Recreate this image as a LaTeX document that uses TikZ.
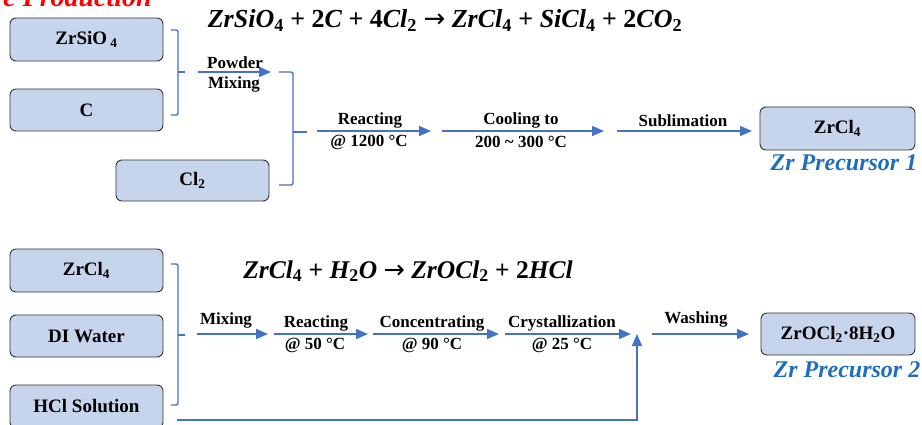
\documentclass[tikz,border=0pt]{standalone}
\usepackage{fontspec}
\setmainfont{Liberation Serif}
\newfontfamily\arrowfont{DejaVu Sans}
\usetikzlibrary{arrows.meta}
\definecolor{boxfill}{RGB}{198,212,236}
\definecolor{flowblue}{RGB}{68,114,196}
\definecolor{precblue}{RGB}{30,110,190}
\newcommand{\ei}[1]{{\bfseries\itshape #1}}
\newcommand{\en}[1]{{\bfseries\upshape #1}}
\newcommand{\es}[1]{\textsubscript{\bfseries\upshape #1}}
\newcommand{\eplus}{\ {\bfseries\upshape +}\ }
\newcommand{\earrow}{\ {\arrowfont →}\ }
\tikzset{
 procbox/.style={draw=black!80, line width=0.9pt, fill=boxfill, rounded corners=6pt, minimum width=153pt, minimum height=43pt, inner sep=0pt, font=\fontsize{19}{22}\selectfont\bfseries},
 flow/.style={draw=flowblue, line width=1.6pt, -{Triangle[length=12pt,width=10pt]}},
 brace/.style={draw=flowblue, line width=1.4pt, rounded corners=2pt},
 steplabel/.style={font=\fontsize{17}{20}\selectfont\bfseries, inner sep=0pt},
 prec/.style={font=\fontsize{24}{28}\selectfont\bfseries\itshape, text=precblue, inner sep=0pt},
 eqn/.style={font=\fontsize{25.5}{30}\selectfont, inner sep=0pt, anchor=base},
}
\begin{document}
\begin{tikzpicture}[x=1pt,y=-1pt]
\useasboundingbox (0,0) rectangle (922,425);
\clip (0,0) rectangle (922,425);

% title (clipped at the top edge, as in the reference)
\node[anchor=base east, font=\fontsize{28}{32}\selectfont\bfseries\itshape, text=red, inner sep=0pt] (title) at (152,7) {e Production};

% equations
\node[eqn, font=\fontsize{26}{30}\selectfont] (eq1) at (445,28) {\ei{ZrSiO}\es{4}\eplus\en{2}\ei{C}\eplus\en{4}\ei{Cl}\es{2}\earrow\ei{ZrCl}\es{4}\eplus\ei{SiCl}\es{4}\eplus\en{2}\ei{CO}\es{2}};
\node[eqn] (eq2) at (408,278) {\ei{ZrCl}\es{4}\eplus\ei{H}\es{2}\ei{O}\earrow\ei{ZrOCl}\es{2}\eplus\en{2}\ei{HCl}};

% top boxes
\node[procbox] (zrsio) at (86.5,39.5) {ZrSiO\,\textsubscript{4}};
\node[procbox, minimum height=42pt] (carbon) at (86.5,110) {C};
\node[procbox, minimum height=41pt] (chlor) at (192.5,180.5) {Cl\textsubscript{2}};
\node[procbox, minimum width=155pt] (zrcla) at (837.5,128.5) {ZrCl\textsubscript{4}};
\node[prec] (p1) at (844,163) {Zr Precursor 1};

% bottom boxes
\node[procbox] (zrclb) at (86.5,270.5) {ZrCl\textsubscript{4}};
\node[procbox, minimum height=42pt] (water) at (86.5,336) {DI Water};
\node[procbox] (hcl) at (86.5,406.5) {HCl Solution};
\node[procbox, minimum width=154pt, minimum height=42pt] (zrocl) at (838,334) {ZrOCl\textsubscript{2}·8H\textsubscript{2}O};
\node[prec] (p2) at (847,370) {Zr Precursor 2};

% top brackets
\draw[brace] (171,30) -| (178,115) -- (171,115);
\draw[brace] (178,72) -- (185,72);
\draw[brace] (279,72) -| (293,185) -- (279,185);
\draw[brace] (293,132) -- (307,132);

% top arrows
\coordinate (a1s) at (198,72);  \coordinate (a1e) at (271,72);
\coordinate (a2s) at (317,131); \coordinate (a2e) at (431,131);
\coordinate (a3s) at (442,131); \coordinate (a3e) at (604,131);
\coordinate (a4s) at (617,131); \coordinate (a4e) at (752,131);
\draw[flow] (a1s) -- (a1e);
\draw[flow] (a2s) -- (a2e);
\draw[flow] (a3s) -- (a3e);
\draw[flow] (a4s) -- (a4e);
\node[steplabel] (l1a) at (235,63) {Powder};
\node[steplabel] (l1b) at (234,84) {Mixing};
\node[steplabel] (l2a) at (370,120) {Reacting};
\node[steplabel] (l2b) at (369,142) {@ 1200 °C};
\node[steplabel] (l3a) at (521,120) {Cooling to};
\node[steplabel] (l3b) at (521,142) {200 \textasciitilde{} 300 °C};
\node[steplabel] (l4a) at (683,121) {Sublimation};

% bottom bracket
\draw[brace] (171,264) -| (178,405) -- (171,405);
\draw[brace] (178,335) -- (185,335);

% bottom arrows
\coordinate (b1s) at (197,334); \coordinate (b1e) at (268,334);
\coordinate (b2s) at (274,334); \coordinate (b2e) at (368,334);
\coordinate (b3s) at (373,334); \coordinate (b3e) at (499,334);
\coordinate (b4s) at (505,334); \coordinate (b4e) at (631,334);
\coordinate (b5s) at (652,334); \coordinate (b5e) at (749,334);
\coordinate (hs) at (177,420);  \coordinate (he) at (637,334);
\draw[flow] (b1s) -- (b1e);
\draw[flow] (b2s) -- (b2e);
\draw[flow] (b3s) -- (b3e);
\draw[flow] (b4s) -- (b4e);
\draw[flow] (b5s) -- (b5e);
\draw[flow] (hs) -| (he);
\node[steplabel] (m1) at (226,320) {Mixing};
\node[steplabel] (m2a) at (316,323) {Reacting};
\node[steplabel] (m2b) at (315,345) {@ 50 °C};
\node[steplabel] (m3a) at (432,323) {Concentrating};
\node[steplabel] (m3b) at (432,345) {@ 90 °C};
\node[steplabel] (m4a) at (562,323) {Crystallization};
\node[steplabel] (m4b) at (562,345) {@ 25 °C};
\node[steplabel] (m5) at (696,319) {Washing};
\end{tikzpicture}
\end{document}
